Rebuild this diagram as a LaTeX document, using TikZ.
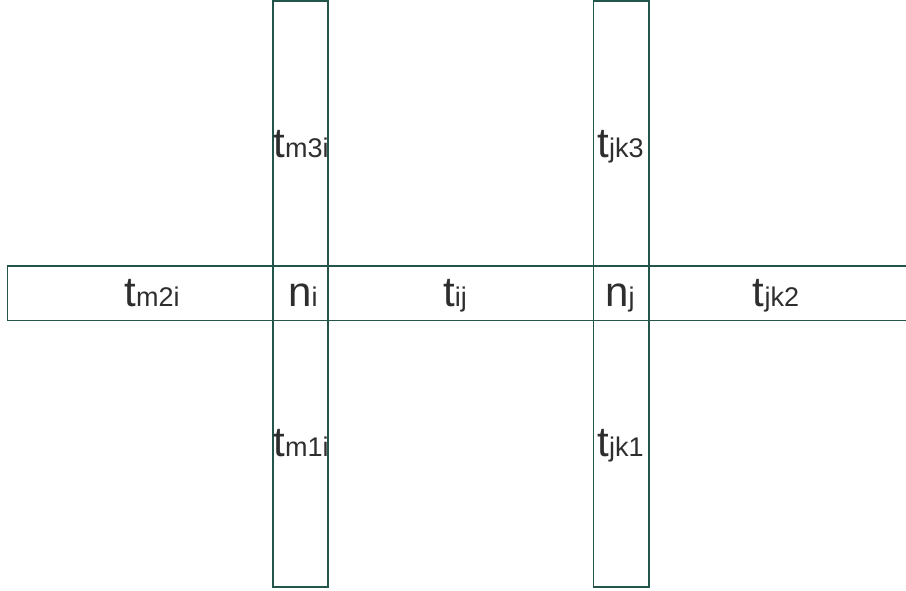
\documentclass[tikz,border=0pt]{standalone}
\usepackage{fontspec}
\setmainfont{Liberation Sans}
\definecolor{gridline}{HTML}{23554A}
\definecolor{labtext}{HTML}{2E2E2E}
\newcommand{\lsub}[1]{{\fontsize{27}{28}\selectfont #1}}

\begin{document}
\begin{tikzpicture}[x=1pt,y=-1pt,
  strip/.style={draw=gridline,line width=1.7pt,inner sep=0pt,outer sep=0pt},
  lab/.style={font=\fontsize{42}{44}\selectfont,text=labtext,inner sep=0pt,anchor=base}]
\path[use as bounding box] (0,0) rectangle (906,590);
% strips
\node[strip,minimum width=907.5pt,minimum height=54.5pt] (hstrip) at (461.25,293.25) {};
\node[strip,minimum width=55.6pt,minimum height=585.7pt] (istrip) at (300.5,293.85) {};
\node[strip,minimum width=55.7pt,minimum height=585.7pt] (jstrip) at (621.2,293.85) {};
% labels, middle row
\node[lab] (tmtwoi) at (152,306) {t\lsub{m2i}};
\node[lab] (ni) at (303,306) {n\lsub{i}};
\node[lab] (tij) at (455,306) {t\lsub{ij}};
\node[lab] (nj) at (620,306) {n\lsub{j}};
\node[lab] (tjktwo) at (776,306) {t\lsub{jk2}};
% labels, vertical strips
\node[lab] (tmthreei) at (301,157) {t\lsub{m3i}};
\node[lab] (tmonei) at (301,456) {t\lsub{m1i}};
\node[lab] (tjkthree) at (620.5,157) {t\lsub{jk3}};
\node[lab] (tjkone) at (620.5,456) {t\lsub{jk1}};
\end{tikzpicture}
\end{document}
